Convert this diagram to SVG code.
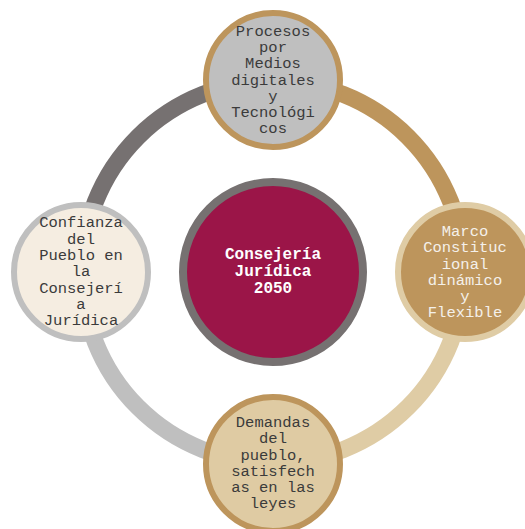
<svg xmlns="http://www.w3.org/2000/svg" width="525" height="529" viewBox="0 0 525 529">
<style>
.arc{fill:none;stroke-width:17}
.t{font-family:"Liberation Mono","Courier New",monospace;font-size:15.5px;text-anchor:middle;fill:#3b3b3b}
.w{fill:#f4f0ea}
.c{font-family:"Liberation Mono","Courier New",monospace;font-size:16px;font-weight:bold;text-anchor:middle;fill:#ffffff}
</style>
<rect width="525" height="529" fill="#ffffff"/>
<g id="connectors">
<path class="arc" stroke="#767171" d="M82,272 A191,191 0 0 1 273,81"/>
<path class="arc" stroke="#bd955c" d="M273,81 A191,191 0 0 1 464,272"/>
<path class="arc" stroke="#dfcca5" d="M464,272 A191,191 0 0 1 273,463"/>
<path class="arc" stroke="#bfbfbf" d="M273,463 A191,191 0 0 1 82,272"/>
</g>
<g id="center">
<circle cx="273" cy="272" r="90" fill="#9b1548" stroke="#767171" stroke-width="8"/>
<text class="c"><tspan x="273" y="259">Consejería</tspan><tspan x="273" y="276">Jurídica</tspan><tspan x="273" y="293">2050</tspan></text>
</g>
<g id="top">
<circle cx="273" cy="80" r="67" fill="#bfbfbf" stroke="#bd955c" stroke-width="6"/>
<text class="t"><tspan x="273" y="36">Procesos</tspan><tspan x="273" y="52">por</tspan><tspan x="273" y="68">Medios</tspan><tspan x="273" y="84.5">digitales</tspan><tspan x="273" y="100.5">y</tspan><tspan x="273" y="117">Tecnológi</tspan><tspan x="273" y="133">cos</tspan></text>
</g>
<g id="right">
<circle cx="465" cy="272" r="67" fill="#bd955c" stroke="#dfcca5" stroke-width="6"/>
<text class="t w"><tspan x="465" y="236">Marco</tspan><tspan x="465" y="252">Constituc</tspan><tspan x="465" y="268.5">ional</tspan><tspan x="465" y="284.5">dinámico</tspan><tspan x="465" y="300.5">y</tspan><tspan x="465" y="317">Flexible</tspan></text>
</g>
<g id="bottom">
<circle cx="273" cy="464" r="67" fill="#dfcba3" stroke="#bd955c" stroke-width="6"/>
<text class="t"><tspan x="273" y="427">Demandas</tspan><tspan x="273" y="443">del</tspan><tspan x="273" y="459.5">pueblo,</tspan><tspan x="273" y="475.5">satisfech</tspan><tspan x="273" y="492">as en las</tspan><tspan x="273" y="508">leyes</tspan></text>
</g>
<g id="left">
<circle cx="81" cy="272" r="67" fill="#f5ede1" stroke="#bfbfbf" stroke-width="6"/>
<text class="t"><tspan x="81" y="227">Confianza</tspan><tspan x="81" y="243.5">del</tspan><tspan x="81" y="260">Pueblo en</tspan><tspan x="81" y="276">la</tspan><tspan x="81" y="292.5">Consejerí</tspan><tspan x="81" y="309">a</tspan><tspan x="81" y="325">Jurídica</tspan></text>
</g>
</svg>
